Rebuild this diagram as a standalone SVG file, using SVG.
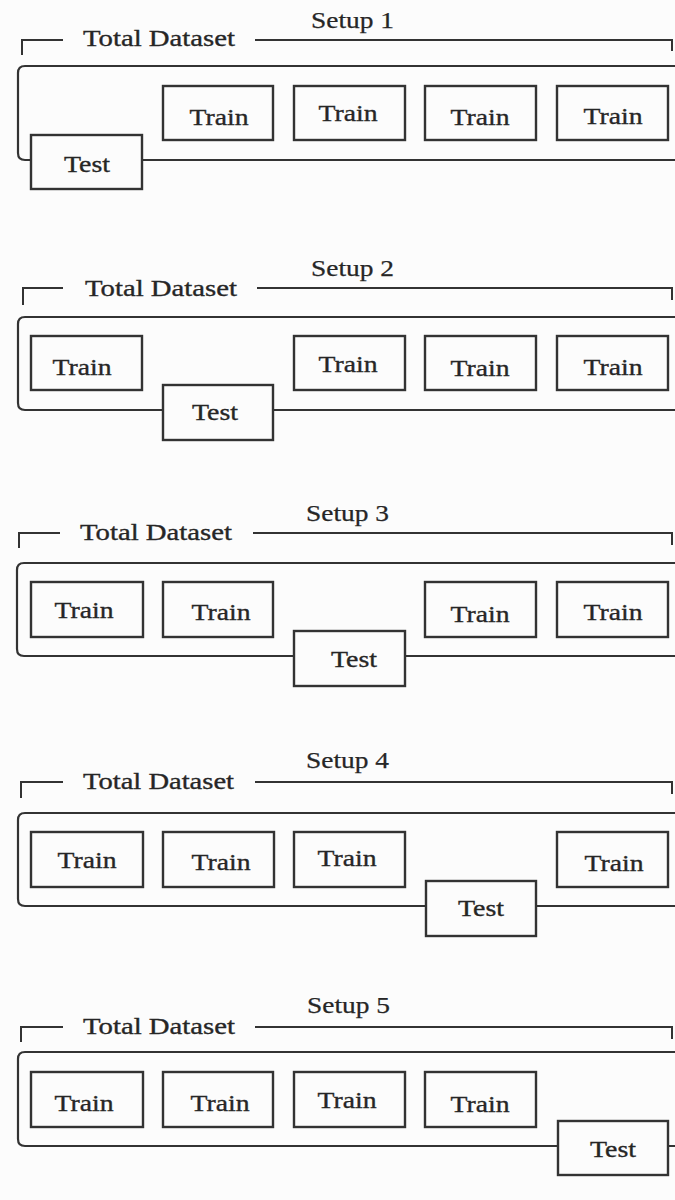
<svg xmlns="http://www.w3.org/2000/svg" width="675" height="1200" viewBox="0 0 675 1200">
<style>
.bg{fill:#fcfcfc}
.frame{fill:none;stroke:#333;stroke-width:2.2}
.br{fill:none;stroke:#333;stroke-width:2}
.box{fill:#fcfcfc;stroke:#333;stroke-width:2.4}
.lbl{font-family:"Liberation Serif","Times New Roman",serif;font-size:24px;fill:#262626;stroke:#262626;stroke-width:0.35}
.ttl{font-family:"Liberation Serif","Times New Roman",serif;font-size:23px;fill:#262626;stroke:#262626;stroke-width:0.25}
</style>
<rect class="bg" x="0" y="0" width="675" height="1200"/>

<!-- Setup 1 -->
<g id="setup1">
  <text class="ttl" x="311" y="28" textLength="83" lengthAdjust="spacingAndGlyphs">Setup 1</text>
  <g id="s1-bracket">
    <path class="br" d="M22 55 V40 H63 M255 40 H672 V51"/>
    <text class="lbl" x="83" y="46" textLength="152" lengthAdjust="spacingAndGlyphs">Total Dataset</text>
  </g>
  <path class="frame" d="M677 66 H25 Q18 66 18 73 V153 Q18 160 25 160 H677"/>
  <g id="s1-test"><rect class="box" x="31" y="135" width="111" height="54"/><text class="lbl" x="87" y="172" text-anchor="middle" textLength="46" lengthAdjust="spacingAndGlyphs">Test</text></g>
  <g id="s1-train1"><rect class="box" x="163" y="86" width="110" height="54"/><text class="lbl" x="219" y="125" text-anchor="middle" textLength="59" lengthAdjust="spacingAndGlyphs">Train</text></g>
  <g id="s1-train2"><rect class="box" x="294" y="86" width="111" height="54"/><text class="lbl" x="348" y="121" text-anchor="middle" textLength="59" lengthAdjust="spacingAndGlyphs">Train</text></g>
  <g id="s1-train3"><rect class="box" x="425" y="86" width="111" height="54"/><text class="lbl" x="480" y="125" text-anchor="middle" textLength="59" lengthAdjust="spacingAndGlyphs">Train</text></g>
  <g id="s1-train4"><rect class="box" x="557" y="86" width="111" height="54"/><text class="lbl" x="613" y="124" text-anchor="middle" textLength="59" lengthAdjust="spacingAndGlyphs">Train</text></g>
</g>

<!-- Setup 2 -->
<g id="setup2">
  <text class="ttl" x="311" y="276" textLength="83" lengthAdjust="spacingAndGlyphs">Setup 2</text>
  <g id="s2-bracket">
    <path class="br" d="M23 305 V288 H63 M257 288 H672 V300"/>
    <text class="lbl" x="85" y="296" textLength="152" lengthAdjust="spacingAndGlyphs">Total Dataset</text>
  </g>
  <path class="frame" d="M677 317 H25 Q18 317 18 324 V403 Q18 410 25 410 H677"/>
  <g id="s2-train1"><rect class="box" x="31" y="336" width="111" height="54"/><text class="lbl" x="82" y="375" text-anchor="middle" textLength="59" lengthAdjust="spacingAndGlyphs">Train</text></g>
  <g id="s2-test"><rect class="box" x="163" y="385" width="110" height="55"/><text class="lbl" x="215" y="420" text-anchor="middle" textLength="46" lengthAdjust="spacingAndGlyphs">Test</text></g>
  <g id="s2-train2"><rect class="box" x="294" y="336" width="111" height="54"/><text class="lbl" x="348" y="372" text-anchor="middle" textLength="59" lengthAdjust="spacingAndGlyphs">Train</text></g>
  <g id="s2-train3"><rect class="box" x="425" y="336" width="111" height="54"/><text class="lbl" x="480" y="376" text-anchor="middle" textLength="59" lengthAdjust="spacingAndGlyphs">Train</text></g>
  <g id="s2-train4"><rect class="box" x="557" y="336" width="111" height="54"/><text class="lbl" x="613" y="375" text-anchor="middle" textLength="59" lengthAdjust="spacingAndGlyphs">Train</text></g>
</g>

<!-- Setup 3 -->
<g id="setup3">
  <text class="ttl" x="306" y="521" textLength="83" lengthAdjust="spacingAndGlyphs">Setup 3</text>
  <g id="s3-bracket">
    <path class="br" d="M19 548 V533 H60 M253 533 H672 V545"/>
    <text class="lbl" x="80" y="540" textLength="152" lengthAdjust="spacingAndGlyphs">Total Dataset</text>
  </g>
  <path class="frame" d="M677 563 H24 Q17 563 17 570 V649 Q17 656 24 656 H677"/>
  <g id="s3-train1"><rect class="box" x="31" y="582" width="112" height="55"/><text class="lbl" x="84" y="618" text-anchor="middle" textLength="59" lengthAdjust="spacingAndGlyphs">Train</text></g>
  <g id="s3-train2"><rect class="box" x="163" y="582" width="110" height="55"/><text class="lbl" x="221" y="620" text-anchor="middle" textLength="59" lengthAdjust="spacingAndGlyphs">Train</text></g>
  <g id="s3-test"><rect class="box" x="294" y="631" width="111" height="55"/><text class="lbl" x="354" y="667" text-anchor="middle" textLength="46" lengthAdjust="spacingAndGlyphs">Test</text></g>
  <g id="s3-train3"><rect class="box" x="425" y="582" width="111" height="55"/><text class="lbl" x="480" y="622" text-anchor="middle" textLength="59" lengthAdjust="spacingAndGlyphs">Train</text></g>
  <g id="s3-train4"><rect class="box" x="557" y="582" width="111" height="55"/><text class="lbl" x="613" y="620" text-anchor="middle" textLength="59" lengthAdjust="spacingAndGlyphs">Train</text></g>
</g>

<!-- Setup 4 -->
<g id="setup4">
  <text class="ttl" x="306" y="768" textLength="83" lengthAdjust="spacingAndGlyphs">Setup 4</text>
  <g id="s4-bracket">
    <path class="br" d="M21 798 V782 H63 M255 782 H672 V794"/>
    <text class="lbl" x="83" y="789" textLength="151" lengthAdjust="spacingAndGlyphs">Total Dataset</text>
  </g>
  <path class="frame" d="M677 813 H25 Q18 813 18 820 V899 Q18 906 25 906 H677"/>
  <g id="s4-train1"><rect class="box" x="31" y="832" width="112" height="55"/><text class="lbl" x="87" y="868" text-anchor="middle" textLength="59" lengthAdjust="spacingAndGlyphs">Train</text></g>
  <g id="s4-train2"><rect class="box" x="163" y="832" width="111" height="55"/><text class="lbl" x="221" y="870" text-anchor="middle" textLength="59" lengthAdjust="spacingAndGlyphs">Train</text></g>
  <g id="s4-train3"><rect class="box" x="294" y="832" width="111" height="55"/><text class="lbl" x="347" y="866" text-anchor="middle" textLength="59" lengthAdjust="spacingAndGlyphs">Train</text></g>
  <g id="s4-test"><rect class="box" x="426" y="881" width="110" height="55"/><text class="lbl" x="481" y="916" text-anchor="middle" textLength="46" lengthAdjust="spacingAndGlyphs">Test</text></g>
  <g id="s4-train4"><rect class="box" x="557" y="832" width="111" height="55"/><text class="lbl" x="614" y="871" text-anchor="middle" textLength="59" lengthAdjust="spacingAndGlyphs">Train</text></g>
</g>

<!-- Setup 5 -->
<g id="setup5">
  <text class="ttl" x="307" y="1013" textLength="83" lengthAdjust="spacingAndGlyphs">Setup 5</text>
  <g id="s5-bracket">
    <path class="br" d="M21 1042 V1027 H63 M255 1027 H672 V1039"/>
    <text class="lbl" x="83" y="1034" textLength="152" lengthAdjust="spacingAndGlyphs">Total Dataset</text>
  </g>
  <path class="frame" d="M677 1052 H25 Q18 1052 18 1059 V1139 Q18 1146 25 1146 H677"/>
  <g id="s5-train1"><rect class="box" x="31" y="1072" width="112" height="55"/><text class="lbl" x="84" y="1111" text-anchor="middle" textLength="59" lengthAdjust="spacingAndGlyphs">Train</text></g>
  <g id="s5-train2"><rect class="box" x="163" y="1072" width="110" height="55"/><text class="lbl" x="220" y="1111" text-anchor="middle" textLength="59" lengthAdjust="spacingAndGlyphs">Train</text></g>
  <g id="s5-train3"><rect class="box" x="294" y="1072" width="111" height="55"/><text class="lbl" x="347" y="1108" text-anchor="middle" textLength="59" lengthAdjust="spacingAndGlyphs">Train</text></g>
  <g id="s5-train4"><rect class="box" x="425" y="1072" width="111" height="55"/><text class="lbl" x="480" y="1112" text-anchor="middle" textLength="59" lengthAdjust="spacingAndGlyphs">Train</text></g>
  <g id="s5-test"><rect class="box" x="558" y="1121" width="110" height="54"/><text class="lbl" x="613" y="1157" text-anchor="middle" textLength="46" lengthAdjust="spacingAndGlyphs">Test</text></g>
</g>

<g id="connectors"></g>
</svg>
